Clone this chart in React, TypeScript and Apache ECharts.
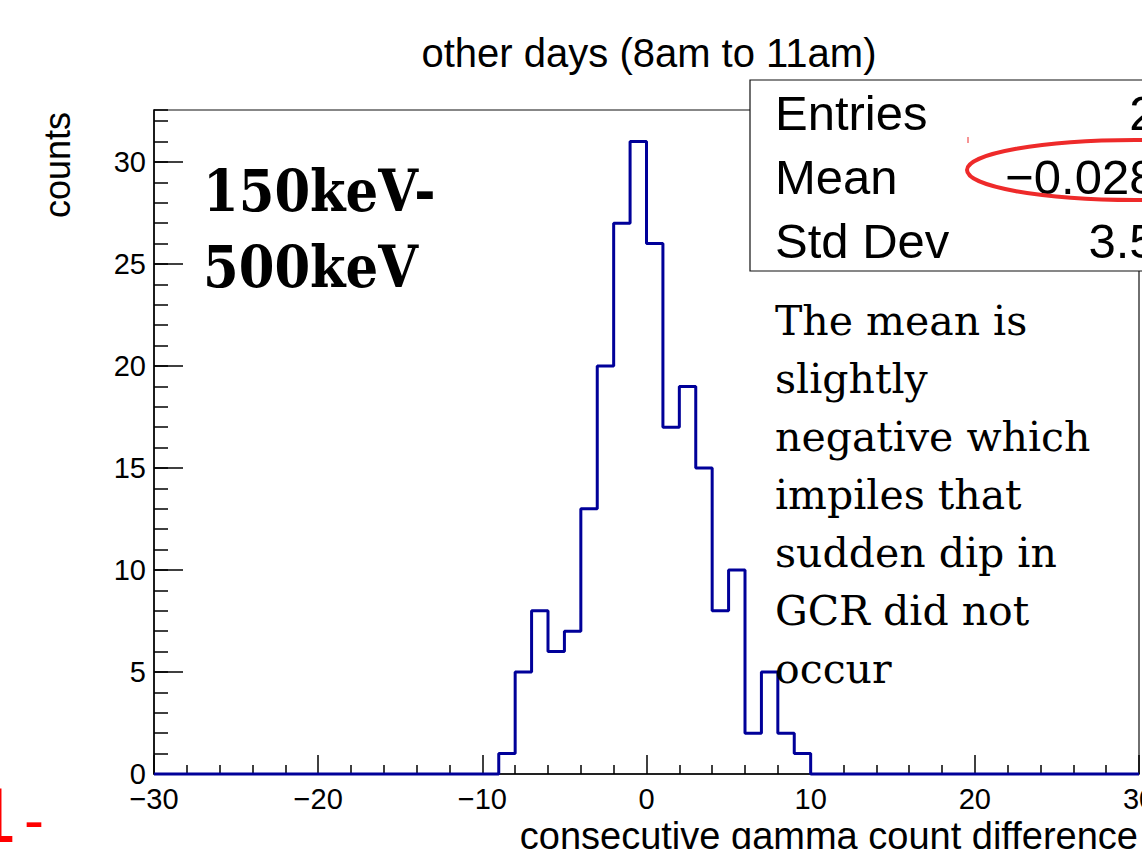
import React, { useEffect, useRef } from 'react';
import * as echarts from 'echarts';

// ---- data ----
const TITLE = 'other days (8am to 11am)';
const X_NAME = 'consecutive gamma count difference';
const Y_NAME = 'counts';
const X_MIN = -30;
const X_MAX = 30;
const Y_MAX = 32.55;
const BIN_WIDTH = 1;
const BIN_LEFT_EDGES = [-9, -8, -7, -6, -5, -4, -3, -2, -1, 0, 1, 2, 3, 4, 5, 6, 7, 8, 9];
const BIN_COUNTS = [1, 5, 8, 6, 7, 13, 20, 27, 31, 26, 17, 19, 15, 8, 10, 2, 5, 2, 1];
const STAT_LABELS = ['Entries', 'Mean', 'Std Dev'];
const STAT_VALUES = ['223', '\u22120.02803', '3.527'];
const ENERGY_LINES = ['150keV-', '500keV'];
const NOTE_LINES = ['The mean is', 'slightly', 'negative which', 'impiles that', 'sudden dip in', 'GCR did not', 'occur'];

const SANS = '"Liberation Sans", Arial, Helvetica, sans-serif';
const SERIF = '"DejaVu Serif", serif';

const fmt = (v: number) => (v < 0 ? '\u2212' + Math.abs(v) : String(v));

function buildStepData(): number[][] {
  const pts: number[][] = [[X_MIN, 0]];
  BIN_LEFT_EDGES.forEach((e, i) => pts.push([e, BIN_COUNTS[i]]));
  const lastEdge = BIN_LEFT_EDGES[BIN_LEFT_EDGES.length - 1] + BIN_WIDTH;
  pts.push([lastEdge, 0]);
  pts.push([X_MAX, 0]);
  return pts;
}

export default function App() {
  const ref = useRef<HTMLDivElement>(null);
  useEffect(() => {
    document.body.style.margin = '0';
    const chart = echarts.init(ref.current!, null, { renderer: 'svg' });
    const axisColor = '#000';
    const option: any = {
      animation: false,
      backgroundColor: '#fff',
      title: {
        text: TITLE,
        left: 644,
        top: 28,
        textAlign: 'center',
        textStyle: { fontFamily: SANS, fontSize: 40, fontWeight: 'normal', color: '#000' },
      },
      grid: {
        left: 154,
        right: 3,
        top: 110,
        bottom: 75,
        outerBoundsMode: 'none',
        containLabel: false,
        show: true,
        borderColor: '#111',
        borderWidth: 1.2,
        backgroundColor: 'transparent',
      },
      xAxis: {
        type: 'value',
        min: X_MIN,
        max: X_MAX,
        interval: 10,
        axisLine: { show: true, onZero: false, lineStyle: { color: axisColor, width: 1.5 } },
        axisTick: { show: true, inside: true, length: 19, lineStyle: { color: axisColor, width: 1.5 } },
        minorTick: { show: true, splitNumber: 5, length: 9, lineStyle: { color: axisColor, width: 1.5 } },
        splitLine: { show: false },
        minorSplitLine: { show: false },
        axisLabel: { fontFamily: SANS, fontSize: 29, color: '#000', margin: 10, formatter: fmt },
      },
      yAxis: [
        {
          type: 'value',
          min: 0,
          max: Y_MAX,
          interval: 5,
          axisLine: { show: true, onZero: false, lineStyle: { color: axisColor, width: 1.5 } },
          axisTick: { show: true, inside: true, length: 29, lineStyle: { color: axisColor, width: 1.5 } },
          splitLine: { show: false },
          axisLabel: {
            fontFamily: SANS,
            fontSize: 29,
            color: '#000',
            margin: 8,
            showMaxLabel: false,
            formatter: (v: number) => (v % 5 === 0 ? fmt(v) : ''),
          },
        },
        {
          type: 'value',
          min: 0,
          max: Y_MAX,
          interval: 1,
          position: 'left',
          axisLine: { show: false, onZero: false },
          axisTick: { show: true, inside: true, length: 14, lineStyle: { color: axisColor, width: 1.5 } },
          splitLine: { show: false },
          axisLabel: { show: false },
        },
      ],
      series: [
        {
          type: 'line',
          step: 'end',
          data: buildStepData(),
          xAxisIndex: 0,
          yAxisIndex: 0,
          showSymbol: false,
          symbol: 'none',
          clip: false,
          lineStyle: { color: '#000099', width: 3 },
          z: 3,
        },
      ],
      graphic: [
        {
          type: 'text',
          x: 57,
          y: 112,
          rotation: Math.PI / 2,
          style: { text: Y_NAME, fontFamily: SANS, fontSize: 36, fill: '#000', textAlign: 'right', textVerticalAlign: 'middle' },
        },
        {
          type: 'text',
          x: 1138,
          y: 836,
          style: { text: X_NAME, fontFamily: SANS, fontSize: 38, fill: '#000', textAlign: 'right', textVerticalAlign: 'middle' },
        },
        {
          type: 'rect',
          z: 100,
          shape: { x: 750, y: 80, width: 500, height: 191 },
          style: { fill: '#fff', stroke: '#111', lineWidth: 1.2 },
        },
        ...STAT_LABELS.map((t, i) => ({
          type: 'text',
          z: 101,
          x: 775,
          y: 113 + i * 64,
          style: { text: t, fontFamily: SANS, fontSize: 49, fill: '#000', textAlign: 'left', textVerticalAlign: 'middle' },
        })),
        ...STAT_VALUES.map((t, i) => ({
          type: 'text',
          z: 101,
          x: 1211,
          y: 113 + i * 64,
          style: { text: t, fontFamily: SANS, fontSize: 49, fill: '#000', textAlign: 'right', textVerticalAlign: 'middle' },
        })),
        {
          type: 'ellipse',
          z: 102,
          shape: { cx: 1135, cy: 170, rx: 168, ry: 30 },
          style: { fill: 'none', stroke: '#ee2a2a', lineWidth: 4 },
        },
        {
          type: 'line',
          z: 102,
          shape: { x1: 968, y1: 137, x2: 968, y2: 143 },
          style: { stroke: '#ee2a2a', lineWidth: 1 },
        },
        {
          type: 'text',
          z: 101,
          x: 203,
          y: 229,
          scaleX: 0.9,
          style: {
            text: ENERGY_LINES.join('\n'),
            fontFamily: SERIF,
            fontWeight: 'bold',
            fontSize: 57,
            lineHeight: 76,
            fill: '#000',
            textAlign: 'left',
            textVerticalAlign: 'middle',
          },
        },
        {
          type: 'text',
          z: 101,
          x: 775,
          y: 495,
          style: {
            text: NOTE_LINES.join('\n'),
            fontFamily: SERIF,
            fontSize: 41,
            lineHeight: 58,
            fill: '#000',
            textAlign: 'left',
            textVerticalAlign: 'middle',
          },
        },
        {
          type: 'text',
          z: 101,
          x: -4,
          y: 815,
          scaleX: 0.4,
          style: { text: 'L', fontFamily: SANS, fontSize: 78, fill: '#ff0000', textAlign: 'left', textVerticalAlign: 'middle' },
        },
        {
          type: 'text',
          z: 101,
          x: 24,
          y: 819,
          style: { text: '-', fontFamily: SANS, fontSize: 60, fill: '#ff0000', textAlign: 'left', textVerticalAlign: 'middle' },
        },
      ],
    };
    chart.setOption(option);
    return () => chart.dispose();
  }, []);
  return (
    <div
      ref={ref}
      style={{ position: 'absolute', left: 0, top: 0, width: 1142, height: 849, background: '#fff' }}
    />
  );
}
